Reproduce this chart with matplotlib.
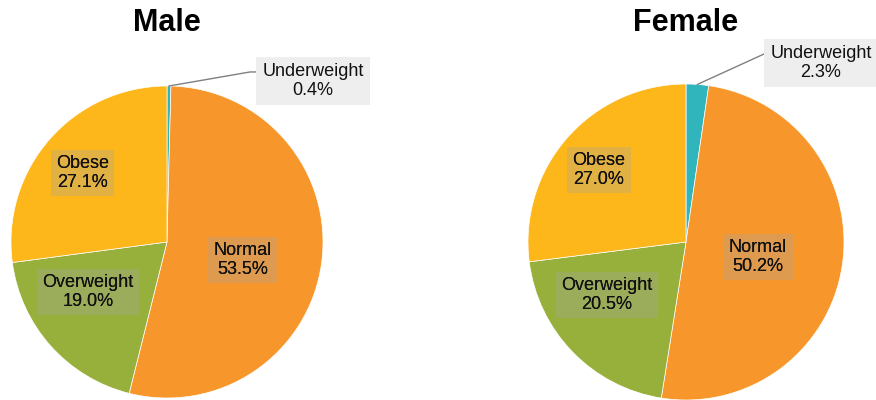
import matplotlib
matplotlib.use("Agg")
from matplotlib import pyplot as plt
import numpy as np

plt.rcParams['font.family'] = ['Liberation Sans', 'DejaVu Sans']

# Data
categories = ["Underweight", "Normal", "Overweight", "Obese"]
male = [0.4, 53.5, 19.0, 27.1]
female = [2.3, 50.2, 20.5, 27.0]
colors = ["#31B5BD", "#F7962A", "#97B03C", "#FDB71A"]

# label layout (data coords of each pie, radius = 1)
male_pos = [(0.936, 1.032), (0.487, -0.115), (-0.506, -0.321), (-0.542, 0.442)]
female_pos = [(0.854, 1.133), (0.456, -0.095), (-0.50, -0.335), (-0.551, 0.456)]
male_elbow = (0.532, 1.09)
female_elbow = (0.494, 1.19)

fig = plt.figure(figsize=(8.76, 4), dpi=100)


def draw(rect, values, title, title_x, pos, elbow):
    ax = fig.add_axes(rect)
    wedges, _ = ax.pie(values, colors=colors, startangle=90, counterclock=False,
                       wedgeprops=dict(edgecolor="white", linewidth=0.5))
    ax.set_xlim(-1, 1)
    ax.set_ylim(-1, 1)
    ax.axis("off")
    for i, (name, v) in enumerate(zip(categories, values)):
        txt = f"{name}\n{v:.1f}%"
        if i == 0:
            # callout with leader line
            w = wedges[0]
            ang = np.deg2rad((w.theta1 + w.theta2) / 2)
            x0, y0 = np.cos(ang), np.sin(ang)
            ax.plot([x0, elbow[0], elbow[0] + 0.035], [y0, elbow[1], elbow[1]],
                    color="#808080", lw=1, clip_on=False)
            ax.text(pos[i][0], pos[i][1], txt, ha="center", va="center",
                    fontsize=13, linespacing=1.1, color="#111111",
                    bbox=dict(boxstyle="square,pad=0.36", fc="#EEEEEE", ec="none"))
        else:
            ax.text(pos[i][0], pos[i][1], txt, ha="center", va="center",
                    fontsize=13, linespacing=1.1, color="#111111",
                    bbox=dict(boxstyle="square,pad=0.3", fc="#A6A6A6", alpha=0.3, ec="none"))
            ax.text(pos[i][0], pos[i][1], txt, ha="center", va="center",
                    fontsize=13, linespacing=1.1, color="#111111")
    fig.text(title_x, 1 - 23 / 400, title, ha="center", va="center",
             fontsize=22, fontweight="bold")


draw([11 / 876, 2 / 400, 312 / 876, 312 / 400], male, "Male", 167 / 876, male_pos, male_elbow)
draw([528 / 876, 0 / 400, 316 / 876, 316 / 400], female, "Female", 686 / 876, female_pos, female_elbow)

plt.savefig("out.png", dpi=100)
